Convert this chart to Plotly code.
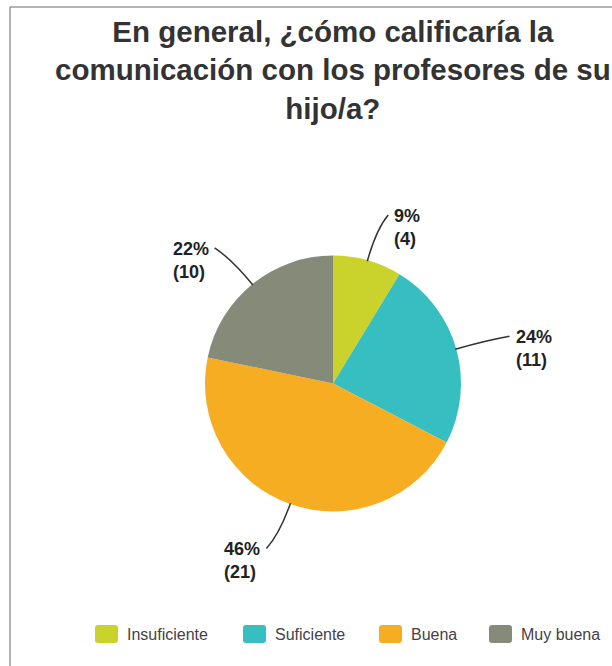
import math
import plotly.graph_objects as go

# ---- data ----
categories = ["Insuficiente", "Suficiente", "Buena", "Muy buena"]
counts = [4, 11, 21, 10]
colors = ["#c9d32b", "#36bec1", "#f6ad21", "#868a78"]
title_text = "En general, ¿cómo calificaría la<br>comunicación con los profesores de su<br>hijo/a?"

# ---- layout constants (pixels) ----
W, H = 612, 666
CX, CY, R = 333, 383.5, 128          # pie centre / radius
LEGEND_X = [95, 243, 379, 489]        # left edge of each legend swatch
LEGEND_Y = 634                        # legend row centre
FONT = "Liberation Sans, Arial, sans-serif"

fig = go.Figure()

fig.add_trace(go.Pie(
    labels=categories,
    values=counts,
    marker=dict(colors=colors, line=dict(width=0)),
    sort=False,
    direction="clockwise",
    rotation=0,
    textinfo="none",
    hoverinfo="label+value+percent",
    domain=dict(x=[(CX - R) / W, (CX + R) / W], y=[(H - CY - R) / H, (H - CY + R) / H]),
    showlegend=False,
))

total = sum(counts)
cum = 0
shapes = []
annotations = []

# leader lines + labels, positioned from the data
for cat, v in zip(categories, counts):
    mid = (cum + v / 2) / total * 2 * math.pi
    cum += v
    sx, sy = math.sin(mid), -math.cos(mid)
    p0 = (CX + (R - 1) * sx, CY + (R - 1) * sy)
    pc = (CX + 160 * sx, CY + 160 * sy)
    right = sx >= 0
    pe = (CX + 175 * sx + (8 if right else -8), CY + 175 * sy)
    shapes.append(dict(
        type="path", xref="x", yref="y",
        path=f"M{p0[0]:.1f},{p0[1]:.1f} Q{pc[0]:.1f},{pc[1]:.1f} {pe[0]:.1f},{pe[1]:.1f}",
        line=dict(color="#333333", width=1.5),
    ))
    pct = round(v / total * 100)
    annotations.append(dict(
        x=pe[0] + (4 if right else -4), y=pe[1] - 11, xref="x", yref="y",
        text=f"<b>{pct}%</b><br><b>({v})</b>",
        showarrow=False, xanchor="left" if right else "right", yanchor="top",
        align="left", font=dict(family=FONT, size=18, color="#222222"),
    ))

# legend (rounded swatches + text)
for cat, col, lx in zip(categories, colors, LEGEND_X):
    x0, x1, y0, y1, rr = lx, lx + 23, LEGEND_Y - 9, LEGEND_Y + 9, 3
    shapes.append(dict(
        type="path", xref="x", yref="y", fillcolor=col, line=dict(width=0),
        path=(f"M{x0+rr},{y0} L{x1-rr},{y0} Q{x1},{y0} {x1},{y0+rr} L{x1},{y1-rr} "
              f"Q{x1},{y1} {x1-rr},{y1} L{x0+rr},{y1} Q{x0},{y1} {x0},{y1-rr} "
              f"L{x0},{y0+rr} Q{x0},{y0} {x0+rr},{y0} Z"),
    ))
    annotations.append(dict(
        x=lx + 30, y=LEGEND_Y, xref="x", yref="y", text=cat, showarrow=False,
        xanchor="left", yanchor="middle",
        font=dict(family=FONT, size=16, color="#453f48"),
    ))

# title
annotations.append(dict(
    x=CX, y=13, xref="x", yref="y", text=f"<b>{title_text}</b>", showarrow=False,
    xanchor="center", yanchor="top", align="center",
    font=dict(family=FONT, size=29.5, color="#333333"),
))

# frame lines (top and left)
shapes.append(dict(type="line", xref="x", yref="y", x0=10, x1=W, y0=7, y1=7,
                   line=dict(color="#666666", width=1)))
shapes.append(dict(type="line", xref="x", yref="y", x0=10, x1=10, y0=7, y1=H,
                   line=dict(color="#666666", width=1)))

fig.update_layout(
    width=W, height=H,
    margin=dict(l=0, r=0, t=0, b=0),
    paper_bgcolor="white", plot_bgcolor="white",
    xaxis=dict(range=[0, W], visible=False, fixedrange=True),
    yaxis=dict(range=[H, 0], visible=False, fixedrange=True),
    showlegend=False,
    shapes=shapes,
    annotations=annotations,
)

fig.write_html("out.html", config={"displayModeBar": False},
               post_script="document.body.style.margin='0px';")
